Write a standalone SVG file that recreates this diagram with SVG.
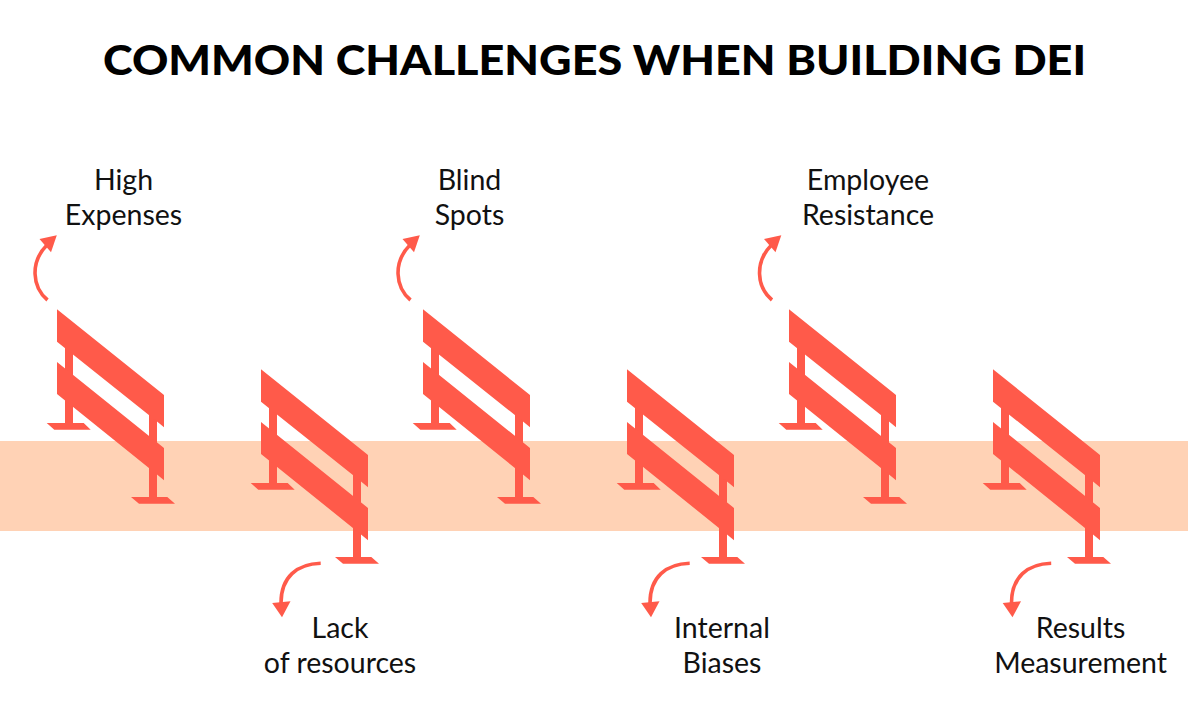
<svg xmlns="http://www.w3.org/2000/svg" width="1188" height="710" viewBox="0 0 1188 710">
<style>
.t{font-family:"Lato","Liberation Sans",sans-serif;font-size:28.5px;fill:#111;text-anchor:middle}
.h{font-family:"Lato","Liberation Sans",sans-serif;font-size:41px;font-weight:900;fill:#000;text-anchor:middle}
.b{fill:#ff5a4a}
.c{fill:none;stroke:#ff5a4a;stroke-width:3.6}
</style>
<defs>
<g id="barrier">
<path class="b" d="M65 335H73V423H83.700L90.700 429.700H54.300L46.700 423H65Z"/>
<path class="b" d="M149 410H157V497H167.300L175 503.700H139L131 497H149Z"/>
<path class="b" d="M57 309.300L164 395V427.300L157 421.500L57 341.700Z"/>
<path class="b" d="M57 362L164 448V480.300L157 474.500L57 394Z"/>
</g>
<g id="up"><path class="c" d="M47.500 300C32 287 30 262 47 245"/><path class="b" d="M56.800 235.200L39.500 239L51 252.200Z"/></g>
<g id="down"><path class="c" d="M320.700 563.300C297 564 281 577 281 603"/><path class="b" d="M272.200 603L290.500 601.300L282 617.200Z"/></g>
</defs>
<rect x="0" y="441" width="1188" height="90" fill="#ffd2b5"/>
<text class="h" x="594.500" y="74.500" textLength="983" lengthAdjust="spacingAndGlyphs">COMMON CHALLENGES WHEN BUILDING DEI</text>
<g id="node-1"><use href="#barrier"/><text class="t" x="123.500" y="190">High</text><text class="t" x="123.500" y="225">Expenses</text></g>
<g id="node-2"><use href="#barrier" x="204" y="60"/><text class="t" x="340" y="638">Lack</text><text class="t" x="340" y="673">of resources</text></g>
<g id="node-3"><use href="#barrier" x="366"/><text class="t" x="469.500" y="190">Blind</text><text class="t" x="469.500" y="225">Spots</text></g>
<g id="node-4"><use href="#barrier" x="570" y="60"/><text class="t" x="722" y="638">Internal</text><text class="t" x="722" y="673">Biases</text></g>
<g id="node-5"><use href="#barrier" x="732"/><text class="t" x="868" y="190">Employee</text><text class="t" x="868" y="225">Resistance</text></g>
<g id="node-6"><use href="#barrier" x="936" y="60"/><text class="t" x="1080.500" y="638">Results</text><text class="t" x="1080.500" y="673">Measurement</text></g>
<g id="connectors">
<use href="#up"/>
<use href="#up" x="363"/>
<use href="#up" x="724.500"/>
<use href="#down"/>
<use href="#down" x="369"/>
<use href="#down" x="730.500"/>
</g>
</svg>
